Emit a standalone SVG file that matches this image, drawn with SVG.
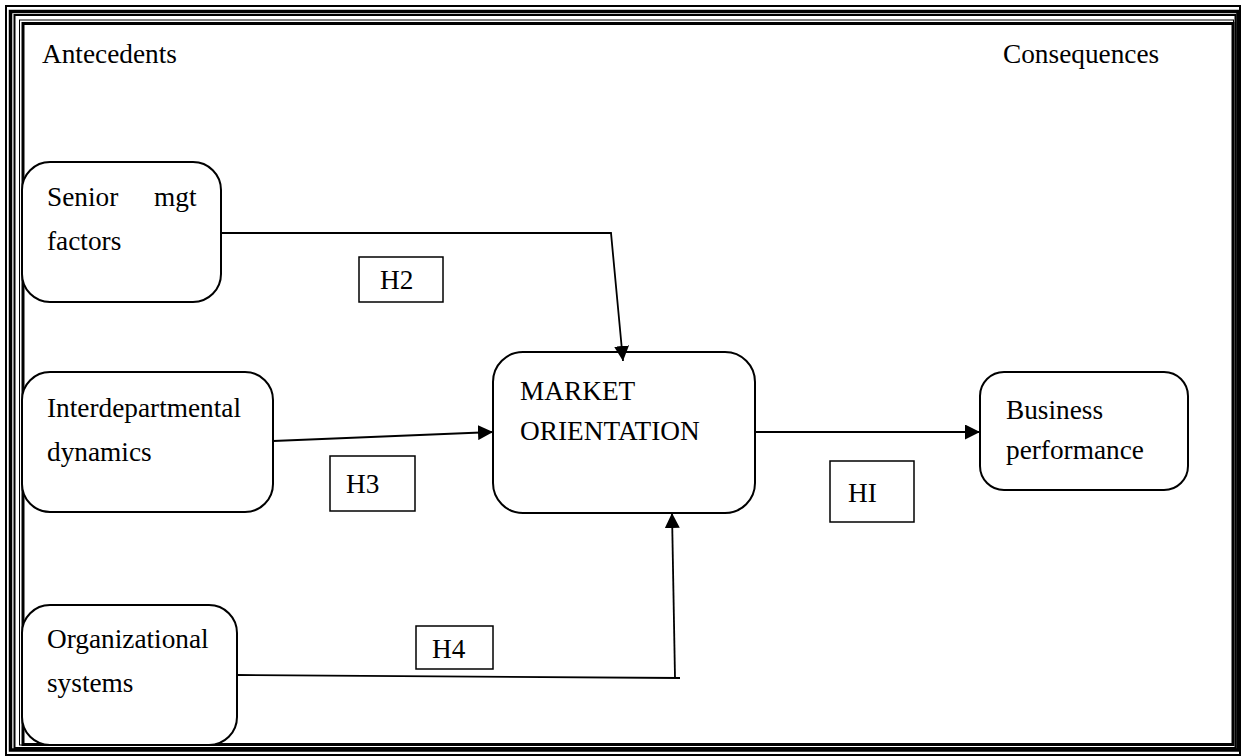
<svg xmlns="http://www.w3.org/2000/svg" width="1243" height="756" viewBox="0 0 1243 756">
<style>
.t{font-family:"Liberation Serif","Times New Roman",serif;font-size:27.3px;fill:#000}
.node{fill:#fff;stroke:#000;stroke-width:2}
.lbl{fill:#fff;stroke:#000;stroke-width:1.5}
.fr{fill:none;stroke:#000}
.c{fill:none;stroke:#000;stroke-width:1.8}
</style>
<defs>
<marker id="ah" viewBox="0 0 10 10" refX="10" refY="5" markerWidth="15" markerHeight="15" markerUnits="userSpaceOnUse" orient="auto">
<path d="M0,0 L10,5 L0,10 Z" fill="#000"/>
</marker>
</defs>
<rect width="1243" height="756" fill="#fff"/>
<g id="frame">
<rect class="fr" x="6" y="6" width="1234" height="749" stroke-width="2"/>
<rect class="fr" x="10.5" y="11.5" width="1227.5" height="738.5" stroke-width="3.5"/>
<rect class="fr" x="14.5" y="15" width="1221" height="733" stroke-width="2"/>
<rect class="fr" x="19.5" y="20" width="1214" height="725" stroke-width="1"/>
<rect class="fr" x="23" y="23.5" width="1210" height="721" stroke-width="3"/>
</g>
<g id="titles">
<text class="t" x="42" y="63">Antecedents</text>
<text class="t" x="1003" y="63">Consequences</text>
</g>
<g id="senior">
<rect class="node" x="22" y="162" width="199" height="140" rx="28"/>
<text class="t" x="47" y="206">Senior</text>
<text class="t" x="154" y="206">mgt</text>
<text class="t" x="47" y="250">factors</text>
</g>
<g id="interdep">
<rect class="node" x="22" y="372" width="251" height="140" rx="28"/>
<text class="t" x="47" y="417">Interdepartmental</text>
<text class="t" x="47" y="461">dynamics</text>
</g>
<g id="org">
<rect class="node" x="22" y="605" width="215" height="140" rx="28"/>
<text class="t" x="47" y="648">Organizational</text>
<text class="t" x="47" y="692">systems</text>
</g>
<g id="market">
<rect class="node" x="493" y="352" width="262" height="161" rx="30"/>
<text class="t" x="520" y="400">MARKET</text>
<text class="t" x="520" y="440">ORIENTATION</text>
</g>
<g id="business">
<rect class="node" x="980" y="372" width="208" height="118" rx="24"/>
<text class="t" x="1006" y="419">Business</text>
<text class="t" x="1006" y="459">performance</text>
</g>
<g id="h2">
<rect class="lbl" x="359" y="257" width="84" height="45"/>
<text class="t" x="380" y="289">H2</text>
</g>
<g id="h3">
<rect class="lbl" x="330" y="456" width="85" height="55"/>
<text class="t" x="346" y="493">H3</text>
</g>
<g id="hi">
<rect class="lbl" x="830" y="461" width="84" height="61"/>
<text class="t" x="848" y="502">HI</text>
</g>
<g id="h4">
<rect class="lbl" x="416" y="626" width="77" height="43"/>
<text class="t" x="432" y="658">H4</text>
</g>
<g id="connectors">
<polyline class="c" points="221,233 611,233 623,361" marker-end="url(#ah)"/>
<line class="c" x1="273" y1="441" x2="493" y2="432" marker-end="url(#ah)"/>
<line class="c" x1="237" y1="675" x2="680" y2="678"/>
<line class="c" x1="675" y1="678" x2="672" y2="513" marker-end="url(#ah)"/>
<line class="c" x1="755" y1="432" x2="980" y2="432" marker-end="url(#ah)"/>
</g>
</svg>
